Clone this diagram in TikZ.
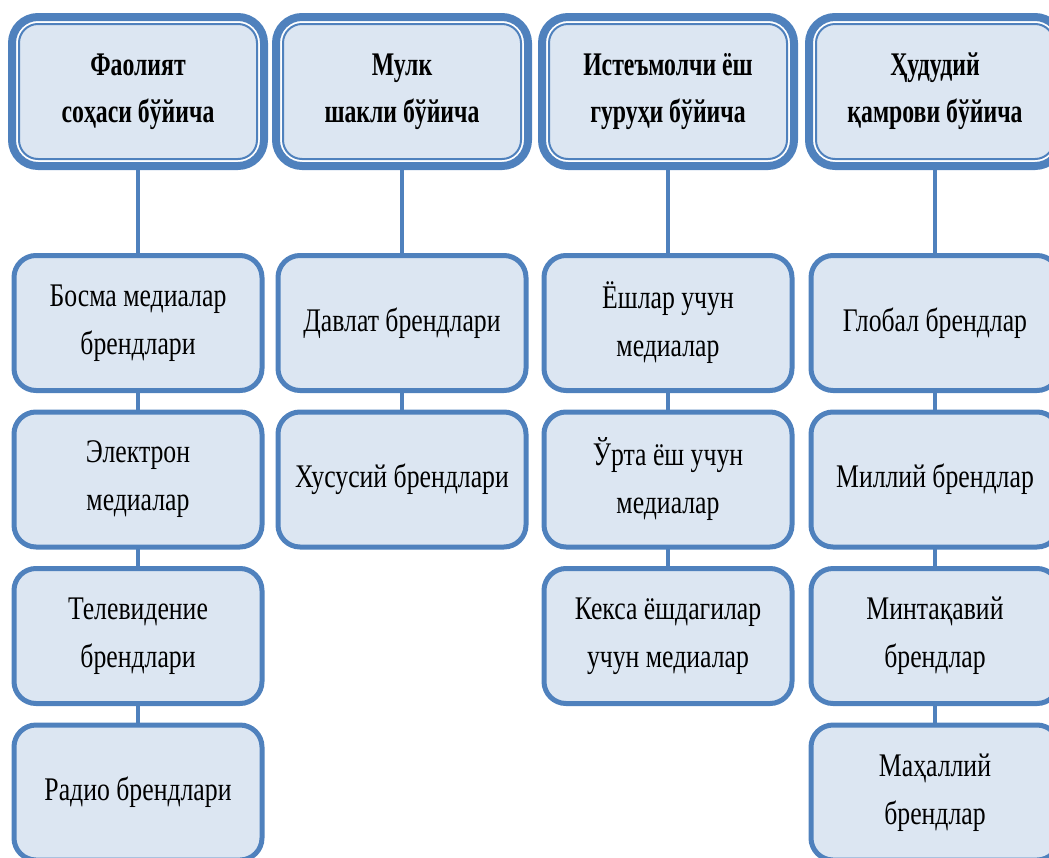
\documentclass[tikz,border=0pt]{standalone}
\usepackage{fontspec}
\setmainfont[FakeStretch=0.78,BoldFeatures={FakeStretch=0.72}]{Liberation Serif}
\usetikzlibrary{positioning}
\definecolor{boxline}{HTML}{4F81BD}
\definecolor{boxfill}{HTML}{DCE6F2}

\begin{document}
\begin{tikzpicture}[x=0.5pt,y=-0.5pt,node distance=10.75pt,
  head/.style={draw=boxline,fill=white,line width=4pt,rounded corners=13pt,
    minimum width=126pt,minimum height=74.5pt,outer sep=0pt,align=center,
    font=\fontsize{16.5}{23.5}\selectfont\bfseries},
  item/.style={draw=boxline,fill=boxfill,line width=2.5pt,rounded corners=11pt,
    minimum width=124pt,minimum height=67.5pt,outer sep=0pt,align=center,
    font=\fontsize{16.5}{24}\selectfont},
  link/.style={draw=boxline,line width=2pt}]
\useasboundingbox (0,0) rectangle (1049,857);
% headers
\node[head] (h1) at (138,91.5) {\phantom{X}};
\node[head] (h2) at (402,91.5) {\phantom{X}};
\node[head] (h3) at (668,91.5) {\phantom{X}};
\node[head] (h4) at (935,91.5) {\phantom{X}};
\foreach \h/\txt in {h1/{Фаолият\\соҳаси бўйича},h2/{Мулк\\шакли бўйича},
    h3/{Истеъмолчи ёш\\гуруҳи бўйича},h4/{Ҳудудий\\қамрови бўйича}}{
  \draw[boxline,fill=boxfill,line width=1pt,rounded corners=9.5pt]
    ([xshift=3.5pt,yshift=-3.5pt]\h.north west) rectangle ([xshift=-3.5pt,yshift=3.5pt]\h.south east);
  \node[align=center,font=\fontsize{16.5}{23.5}\selectfont\bfseries] at (\h) {\txt};
}
% first column
\node[item] (a1) [below=44.75pt of h1] {Босма медиалар\\брендлари};
\node[item] (a2) [below=of a1] {Электрон\\медиалар};
\node[item] (a3) [below=of a2] {Телевидение\\брендлари};
\node[item] (a4) [below=of a3] {Радио брендлари};
% second column
\node[item] (b1) [below=44.75pt of h2] {Давлат брендлари};
\node[item] (b2) [below=of b1] {Хусусий брендлари};
% third column
\node[item] (c1) [below=44.75pt of h3] {Ёшлар учун\\медиалар};
\node[item] (c2) [below=of c1] {Ўрта ёш учун\\медиалар};
\node[item] (c3) [below=of c2] {Кекса ёшдагилар\\учун медиалар};
% fourth column
\node[item] (d1) [below=44.75pt of h4] {Глобал брендлар};
\node[item] (d2) [below=of d1] {Миллий брендлар};
\node[item] (d3) [below=of d2] {Минтақавий\\брендлар};
\node[item] (d4) [below=of d3] {Маҳаллий\\брендлар};
% connectors
\draw[link] (h1) -- (a1);
\draw[link] (a1) -- (a2);
\draw[link] (a2) -- (a3);
\draw[link] (a3) -- (a4);
\draw[link] (h2) -- (b1);
\draw[link] (b1) -- (b2);
\draw[link] (h3) -- (c1);
\draw[link] (c1) -- (c2);
\draw[link] (c2) -- (c3);
\draw[link] (h4) -- (d1);
\draw[link] (d1) -- (d2);
\draw[link] (d2) -- (d3);
\draw[link] (d3) -- (d4);
\end{tikzpicture}
\end{document}
